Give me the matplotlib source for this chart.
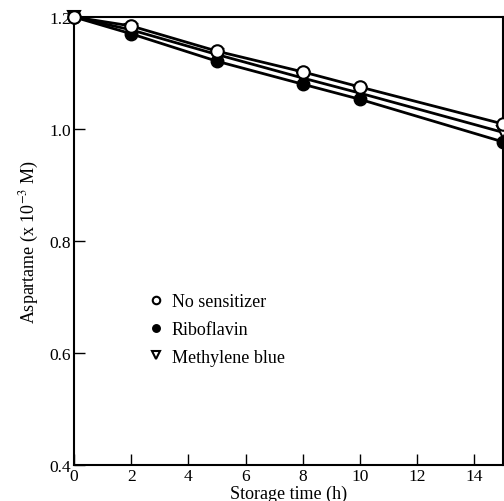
import matplotlib
matplotlib.use('Agg')
import matplotlib.pyplot as plt

plt.rcParams['font.family'] = ['Liberation Serif', 'DejaVu Serif']
plt.rcParams['mathtext.fontset'] = 'stix'

time_h = [0, 2, 5, 8, 10, 15]
no_sensitizer = [1.200, 1.184, 1.139, 1.102, 1.075, 1.009]
riboflavin = [1.200, 1.170, 1.121, 1.080, 1.053, 0.977]
methylene_blue = [1.200, 1.177, 1.133, 1.091, 1.064, 0.994]

fig = plt.figure(figsize=(5.04, 5.02), dpi=100)
ax = fig.add_axes([74 / 504, 36 / 502, 429 / 504, 448 / 502])

ax.plot(time_h, methylene_blue, color='black', lw=2, marker='v', ms=9,
        mfc='white', mec='black', mew=1.5, clip_on=False, label='Methylene blue', zorder=3)
ax.plot(time_h, riboflavin, color='black', lw=2, marker='o', ms=9,
        mfc='black', mec='black', clip_on=False, label='Riboflavin', zorder=4)
ax.plot(time_h, no_sensitizer, color='black', lw=2, marker='o', ms=9,
        mfc='white', mec='black', mew=1.5, clip_on=False, label='No sensitizer', zorder=5)

ax.set_xlim(0, 15)
ax.set_ylim(0.4, 1.2)
ax.set_xticks(range(0, 15, 2))
ax.set_yticks([0.4, 0.6, 0.8, 1.0, 1.2])
ax.set_yticklabels(['0.4', '0.6', '0.8', '1.0', '1.2'])
ax.tick_params(direction='in', length=8, width=1, labelsize=12.5, pad=2)
for s in ax.spines.values():
    s.set_linewidth(1.5)

ax.set_xlabel('Storage time (h)', fontsize=13, labelpad=1)
ax.set_ylabel('Aspartame (x 10$^{-3}$ M)', fontsize=13, labelpad=6)

h, l = ax.get_legend_handles_labels()
order = [2, 1, 0]
leg = ax.legend([h[i] for i in order], [l[i] for i in order], loc='upper left',
                bbox_to_anchor=(0.14, 0.42), frameon=False, fontsize=13,
                handlelength=0.6, handletextpad=0.6, labelspacing=0.6, markerscale=0.6)
for lh in leg.legend_handles:
    lh.set_linestyle('none')

fig.savefig('out.png', dpi=100)
